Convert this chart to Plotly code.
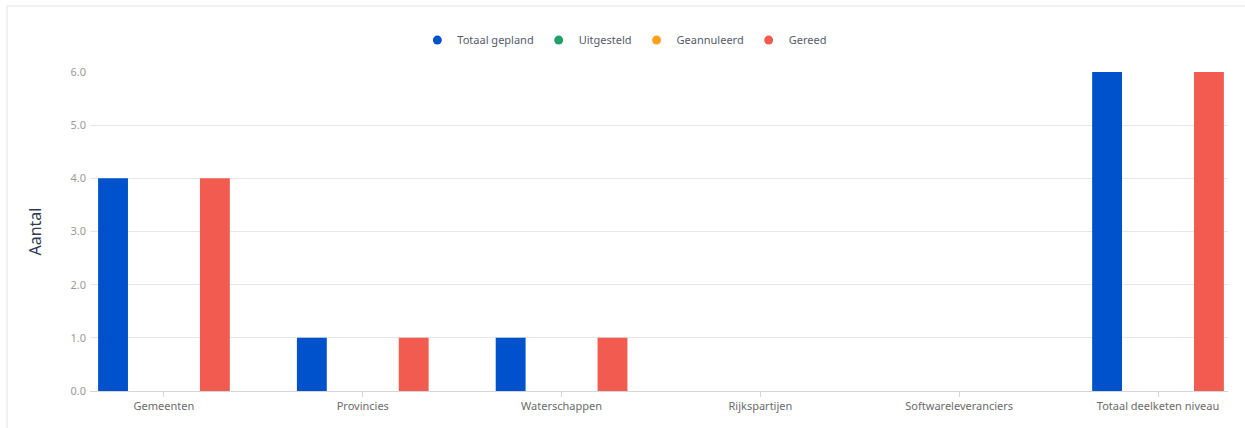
import plotly.graph_objects as go

categories = ["Gemeenten", "Provincies", "Waterschappen", "Rijkspartijen",
              "Softwareleveranciers", "Totaal deelketen niveau"]
totaal_gepland = [4, 1, 1, 0, 0, 6]
uitgesteld = [0, 0, 0, 0, 0, 0]
geannuleerd = [0, 0, 0, 0, 0, 0]
gereed = [4, 1, 1, 0, 0, 6]
series_names = ["Totaal gepland", "Uitgesteld", "Geannuleerd", "Gereed"]
colors = ["#0052CC", "#22A06B", "#FF9F1A", "#F15B50"]
y_ticks = [0, 1, 2, 3, 4, 5, 6]

font_family = "Noto Sans, Open Sans, sans-serif"

fig = go.Figure()
for name, vals, col in zip(series_names,
                           [totaal_gepland, uitgesteld, geannuleerd, gereed],
                           colors):
    fig.add_trace(go.Bar(x=categories, y=vals, name=name, marker_color=col,
                         marker_line_width=0, showlegend=False))
# legend entries with circle symbols
for name, col in zip(series_names, colors):
    fig.add_trace(go.Scatter(x=[None], y=[None], mode="markers", name=name,
                             marker=dict(color=col, size=9, symbol="circle"),
                             showlegend=True, hoverinfo="skip"))

fig.update_layout(
    width=1245, height=428,
    margin=dict(l=90, r=17, t=72, b=37),
    paper_bgcolor="white", plot_bgcolor="white",
    font=dict(family=font_family, color="#666666", size=11),
    barmode="group", bargap=0.317, bargroupgap=0.12,
    legend=dict(orientation="h", x=0.47, xanchor="center", y=1.10,
                yanchor="middle", font=dict(size=11, color="#555b6e"),
                itemwidth=30, tracegroupgap=0, bgcolor="rgba(0,0,0,0)"),
    xaxis=dict(type="category", range=[-0.372, 5.352],
               showline=True, linecolor="#d6d6d6", linewidth=1,
               ticks="outside", ticklen=5, tickcolor="#d6d6d6",
               showgrid=False, tickfont=dict(size=11, color="#6b6b6b"),
               zeroline=False, fixedrange=True),
    yaxis=dict(range=[0, 6], tickvals=y_ticks, tickformat=".1f",
               showgrid=True, gridcolor="#e6e6e6", gridwidth=1,
               showline=False, zeroline=False, ticks="",
               ticklabelstandoff=3,
               tickfont=dict(size=11, color="#9a9a9a"),
               title=dict(text="Aantal", font=dict(size=16, color="#2f3b55"),
                          standoff=24)),
    shapes=[dict(type="rect", xref="paper", yref="paper",
                 x0=-0.0729, x1=1.06, y0=-0.25, y1=1.207,
                 line=dict(color="#e3e3e3", width=1), fillcolor="rgba(0,0,0,0)",
                 layer="below")],
)

fig.write_html("out.html",
               config={"displayModeBar": False},
               post_script="document.body.style.margin='0';document.body.style.overflow='hidden';")
